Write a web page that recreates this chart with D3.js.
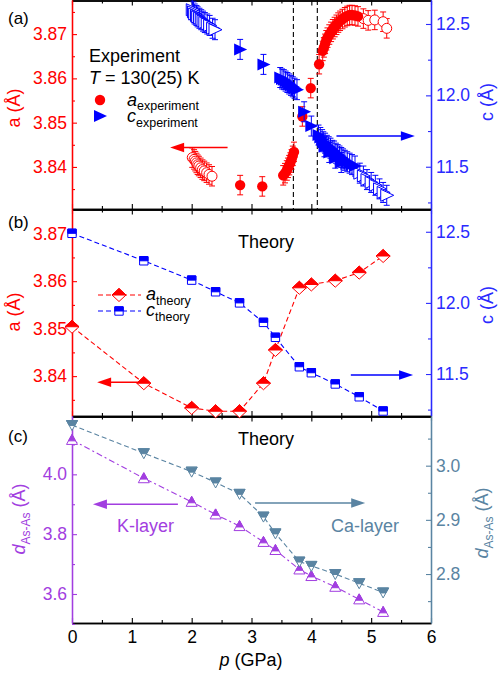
<!DOCTYPE html>
<html lang="en">
<head>
<meta charset="UTF-8">
<title>Lattice parameters under pressure</title>
<script src="https://cdnjs.cloudflare.com/ajax/libs/d3/7.8.5/d3.min.js"></script>
<style>
    body { margin: 0; background: #fff; }
    text { font-family: "Liberation Sans", Arial, sans-serif; }
</style>
</head>
<body>
<script>
    // ---------- data ----------
    var pTicks = [0, 1, 2, 3, 4, 5, 6];
    var transitions = [3.7, 4.1];   // dashed lines in (a)

    // (a) experiment, [p (GPa), value]
    var aExpOpenLow = [[2.01,3.8421],[2.04,3.8417],[2.06,3.8413],[2.08,3.8409],[2.10,3.8405],[2.12,3.8402],
        [2.15,3.8398],[2.18,3.8394],[2.21,3.8391],[2.25,3.8387],[2.29,3.8383],[2.34,3.8379]];
    var aExpFilled = [[2.81,3.8359],[3.18,3.8356],
        [3.53,3.8381],[3.56,3.8386],[3.59,3.8392],[3.61,3.8398],[3.63,3.8404],[3.65,3.8410],[3.67,3.8417],[3.69,3.8425],[3.71,3.8434],
        [3.85,3.8514],[3.99,3.8578],[4.13,3.8632],
        [4.19,3.8662],[4.21,3.8670],[4.23,3.8678],[4.25,3.8686],[4.27,3.8692],[4.30,3.8699],[4.33,3.8705],[4.36,3.8711],
        [4.39,3.8716],[4.42,3.8721],[4.45,3.8726],[4.48,3.8730],[4.52,3.8734],[4.56,3.8738],[4.60,3.8741],[4.64,3.8743],
        [4.68,3.8743],[4.73,3.8742],[4.78,3.8740]];
    var aExpOpenHigh = [[4.87,3.8735],[4.95,3.8731],[5.06,3.8732],[5.20,3.8728],[5.26,3.8713]];

    var cExpOpenLow = [[2.01,12.60],[2.03,12.585],[2.05,12.57],[2.08,12.56],[2.10,12.55],[2.13,12.54],[2.16,12.53],
        [2.19,12.52],[2.22,12.51],[2.26,12.50],[2.30,12.49],[2.35,12.47],[2.39,12.46]];
    var cExpFilled = [[2.81,12.322],[3.20,12.217],
        [3.48,12.125],[3.51,12.115],[3.54,12.11],[3.57,12.10],[3.60,12.09],[3.63,12.08],[3.66,12.07],[3.69,12.06],[3.72,12.05],[3.76,12.04],
        [3.88,11.885],[4.00,11.785],
        [4.12,11.722],[4.15,11.705],[4.18,11.69],[4.20,11.675],[4.23,11.665],[4.26,11.65],[4.29,11.64],[4.32,11.63],
        [4.35,11.615],[4.38,11.61],[4.41,11.595],[4.44,11.585],[4.47,11.575],[4.50,11.565],[4.53,11.555],[4.56,11.545],
        [4.60,11.535],[4.64,11.525],[4.68,11.515],[4.73,11.505],
        [4.22,11.64],[4.30,11.60],[4.40,11.56],[4.50,11.53]];
    var cExpOpenHigh = [[4.81,11.455],[4.87,11.435],[4.93,11.41],[5.00,11.39],[5.07,11.37],[5.14,11.345],[5.20,11.32],[5.26,11.30]];

    var aErr = 0.0022;
    var cErr = 0.07;

    // (b), (c) theory
    var pTheory  = [0, 1.2, 2.0, 2.4, 2.8, 3.2, 3.4, 3.8, 4.0, 4.4, 4.8, 5.2];
    var aTheory  = [3.8504, 3.8385, 3.8333, 3.8326, 3.8326, 3.8385, 3.8455, 3.8586, 3.8593, 3.8601, 3.8618, 3.8653];
    var cTheory  = [12.489, 12.296, 12.16, 12.078, 12.0, 11.863, 11.758, 11.551, 11.509, 11.43, 11.34, 11.24];
    var dKlayer  = [4.115, 3.987, 3.908, 3.866, 3.827, 3.774, 3.747, 3.682, 3.660, 3.624, 3.582, 3.540];
    var dCalayer = [3.075, 3.023, 2.989, 2.969, 2.948, 2.906, 2.875, 2.823, 2.815, 2.800, 2.783, 2.766];

    var aTicks = [3.84, 3.85, 3.86, 3.87];
    var cTicks = [11.5, 12.0, 12.5];
    var dKTicks = [3.6, 3.8, 4.0];
    var dCaTicks = [2.8, 2.9, 3.0];

    // ---------- setup ----------
    var w = 503, h = 675;
    var red = "#ff0000", blue = "#0000ff", blueAxis = "#2a2aff";
    var purple = "#a23ee0", slate = "#5a84a2";

    var svg = d3.select("body").append("svg")
        .attr("width", w).attr("height", h)
        .style("background", "#fff");

    var xScale = d3.scaleLinear().domain([0, 6]).range([72, 431]);

    var yA  = d3.scaleLinear().domain([3.8305, 3.8777]).range([209, 0]);
    var yC  = d3.scaleLinear().domain([11.204, 12.668]).range([209, 0]);
    var yA2 = d3.scaleLinear().domain([3.8316, 3.8752]).range([416, 209]);
    var yC2 = d3.scaleLinear().domain([11.205, 12.66]).range([416, 209]);
    var yK  = d3.scaleLinear().domain([3.503, 4.195]).range([623, 416]);
    var yCa = d3.scaleLinear().domain([2.7096, 3.0917]).range([623, 416]);

    var panels = [
        {top: 0, bottom: 209, left: yA, right: yC, lt: aTicks, rt: cTicks, lminor: [3.835, 3.845, 3.855, 3.865, 3.875], rminor: [11.25, 11.75, 12.25],
         lfmt: d3.format(".2f"), rfmt: d3.format(".1f"), lc: red, rc: blueAxis},
        {top: 209, bottom: 416, left: yA2, right: yC2, lt: aTicks, rt: cTicks, lminor: [3.835, 3.845, 3.855, 3.865], rminor: [11.25, 11.75, 12.25],
         lfmt: d3.format(".2f"), rfmt: d3.format(".1f"), lc: red, rc: blueAxis},
        {top: 416, bottom: 623, left: yK, right: yCa, lt: dKTicks, rt: dCaTicks, lminor: [3.5, 3.7, 3.9, 4.1], rminor: [2.75, 2.85, 2.95, 3.05],
         lfmt: d3.format(".1f"), rfmt: d3.format(".1f"), lc: purple, rc: slate}
    ];
    var pMinor = [0.5, 1.5, 2.5, 3.5, 4.5, 5.5];

    function styleAxis(g, color, size) {
        g.select(".domain").attr("stroke", color).attr("stroke-width", 1.3);
        g.selectAll(".tick line").attr("stroke", color).attr("stroke-width", 1.1);
        g.selectAll(".tick text").attr("fill", color)
            .style("font-size", size + "px")
            .style("font-family", "'Liberation Sans', Arial, sans-serif");
    }

    // ---------- axes ----------
    panels.forEach(function(pn, i) {
        // x top / bottom
        svg.append("g").attr("transform", "translate(0," + pn.bottom + ")")
            .call(d3.axisBottom(xScale).tickValues(pTicks).tickSize(-5).tickSizeOuter(0).tickPadding(8)
                .tickFormat(i == 2 ? d3.format("d") : ""))
            .call(styleAxis, "#000", 17.5);
        svg.append("g").attr("transform", "translate(0," + pn.bottom + ")")
            .call(d3.axisBottom(xScale).tickValues(pMinor).tickSize(-3).tickSizeOuter(0).tickFormat(""))
            .call(styleAxis, "#000", 17.5);
        svg.append("g").attr("transform", "translate(0," + (pn.top + 0.5) + ")")
            .call(d3.axisTop(xScale).tickValues(pTicks).tickSize(-5).tickSizeOuter(0).tickFormat(""))
            .call(styleAxis, "#000", 17.5);
        svg.append("g").attr("transform", "translate(0," + (pn.top + 0.5) + ")")
            .call(d3.axisTop(xScale).tickValues(pMinor).tickSize(-3).tickSizeOuter(0).tickFormat(""))
            .call(styleAxis, "#000", 17.5);

        // left
        svg.append("g").attr("transform", "translate(72,0)")
            .call(d3.axisLeft(pn.left).tickValues(pn.lt).tickSize(-5).tickSizeOuter(0).tickPadding(5).tickFormat(pn.lfmt))
            .call(styleAxis, pn.lc, 17.5);
        svg.append("g").attr("transform", "translate(72,0)")
            .call(d3.axisLeft(pn.left).tickValues(pn.lminor).tickSize(-3).tickSizeOuter(0).tickFormat(""))
            .call(styleAxis, pn.lc, 17.5);
        // right
        svg.append("g").attr("transform", "translate(431,0)")
            .call(d3.axisRight(pn.right).tickValues(pn.rt).tickSize(-5).tickSizeOuter(0).tickPadding(5).tickFormat(pn.rfmt))
            .call(styleAxis, pn.rc, 17.5);
        svg.append("g").attr("transform", "translate(431,0)")
            .call(d3.axisRight(pn.right).tickValues(pn.rminor).tickSize(-3).tickSizeOuter(0).tickFormat(""))
            .call(styleAxis, pn.rc, 17.5);
    });

    // ---------- helpers ----------
    function arrow(x1, x2, y, color) {
        var dir = x2 > x1 ? 1 : -1;
        var len = 14, hw = 4.8;
        svg.append("line")
            .attr("x1", x1).attr("x2", x2 - dir * len + dir * 2)
            .attr("y1", y).attr("y2", y)
            .attr("stroke", color).attr("stroke-width", 1.6);
        svg.append("path")
            .attr("d", "M" + x2 + "," + y + "L" + (x2 - dir * len) + "," + (y - hw) + "L" + (x2 - dir * len) + "," + (y + hw) + "Z")
            .attr("fill", color);
    }

    function errorBars(data, ys, err, color) {
        var g = svg.append("g").attr("stroke", color).attr("stroke-width", 1);
        data.forEach(function(d) {
            var x = xScale(d[0]), y0 = ys(d[1] - err), y1 = ys(d[1] + err);
            g.append("line").attr("x1", x).attr("x2", x).attr("y1", y0).attr("y2", y1);
            g.append("line").attr("x1", x - 3).attr("x2", x + 3).attr("y1", y0).attr("y2", y0);
            g.append("line").attr("x1", x - 3).attr("x2", x + 3).attr("y1", y1).attr("y2", y1);
        });
    }

    var triRight = "M-6,-6L7,0L-6,6Z";

    // half filled symbols: outline + filled upper part
    var diamond = {full: "M0,-6.5L7,0L0,6.5L-7,0Z", top: "M0,-6.5L7,0L-7,0Z"};
    var square  = {full: "M-4.2,-4.2L4.2,-4.2L4.2,4.2L-4.2,4.2Z", top: "M-4.2,-4.2L4.2,-4.2L4.2,0L-4.2,0Z"};
    var triUp   = {full: "M0,-5.5L5.5,4.5L-5.5,4.5Z", top: "M0,-5.5L3.5,0.9L-3.5,0.9Z"};
    var triDown = {full: "M-5.5,-4.5L5.5,-4.5L0,5.5Z", top: "M-5.5,-4.5L5.5,-4.5L2.75,0.5L-2.75,0.5Z"};

    function halfMarker(g, shape, t, color) {
        g.append("path").attr("d", shape.full).attr("transform", t)
            .attr("fill", "#fff").attr("stroke", color).attr("stroke-width", 1);
        g.append("path").attr("d", shape.top).attr("transform", t)
            .attr("fill", color).attr("stroke", color).attr("stroke-width", 1);
    }

    function halfMarkers(ys, vals, shape, color) {
        var g = svg.append("g");
        pTheory.forEach(function(p, i) {
            halfMarker(g, shape, "translate(" + xScale(p) + "," + ys(vals[i]) + ")", color);
        });
    }

    function theoryLine(ys, vals, color, dash) {
        var line = d3.line()
            .x(function(d, i) { return xScale(pTheory[i]); })
            .y(function(d) { return ys(d); });
        svg.append("path").datum(vals)
            .attr("d", line)
            .attr("fill", "none")
            .attr("stroke", color).attr("stroke-width", 1.1)
            .attr("stroke-dasharray", dash);
    }

    // ---------- panel (a) ----------
    transitions.forEach(function(p) {
        svg.append("line")
            .attr("x1", xScale(p)).attr("x2", xScale(p))
            .attr("y1", 0).attr("y2", 209)
            .attr("stroke", "#000").attr("stroke-width", 1.1)
            .attr("stroke-dasharray", "5,3");
    });

    errorBars(aExpOpenLow, yA, aErr, red);
    errorBars(aExpFilled, yA, aErr, red);
    errorBars(aExpOpenHigh, yA, aErr, red);

    svg.append("g").selectAll("circle").data(aExpOpenLow.concat(aExpOpenHigh)).enter()
        .append("circle")
        .attr("cx", function(d) { return xScale(d[0]); })
        .attr("cy", function(d) { return yA(d[1]); })
        .attr("r", 5).attr("fill", "#fff").attr("stroke", red).attr("stroke-width", 1);
    svg.append("g").selectAll("circle").data(aExpFilled).enter()
        .append("circle")
        .attr("cx", function(d) { return xScale(d[0]); })
        .attr("cy", function(d) { return yA(d[1]); })
        .attr("r", 5.2).attr("fill", red);

    errorBars(cExpOpenLow, yC, cErr, blue);
    errorBars(cExpFilled, yC, cErr, blue);
    errorBars(cExpOpenHigh, yC, cErr, blue);

    svg.append("g").selectAll("path").data(cExpOpenLow.concat(cExpOpenHigh)).enter()
        .append("path")
        .attr("d", triRight)
        .attr("transform", function(d) { return "translate(" + xScale(d[0]) + "," + yC(d[1]) + ")"; })
        .attr("fill", "#fff").attr("stroke", blue).attr("stroke-width", 1);
    svg.append("g").selectAll("path").data(cExpFilled).enter()
        .append("path")
        .attr("d", triRight)
        .attr("transform", function(d) { return "translate(" + xScale(d[0]) + "," + yC(d[1]) + ")"; })
        .attr("fill", blue);

    arrow(xScale(2.6), xScale(1.64), yA(3.8444), red);
    arrow(xScale(4.42), xScale(5.73), yC(11.715), blue);

    // legend (a)
    svg.append("text").attr("x", 89).attr("y", 62).style("font-size", "18px").text("Experiment");
    var tt = svg.append("text").attr("x", 89).attr("y", 84).style("font-size", "18px");
    tt.append("tspan").style("font-style", "italic").text("T");
    tt.append("tspan").text(" = 130(25) K");
    svg.append("circle").attr("cx", 100).attr("cy", 100).attr("r", 5.2).attr("fill", red);
    svg.append("path").attr("d", triRight).attr("transform", "translate(100,116)").attr("fill", blue);
    var la = svg.append("text").attr("x", 127).attr("y", 106).style("font-size", "18px");
    la.append("tspan").style("font-style", "italic").text("a");
    la.append("tspan").attr("dy", 4).style("font-size", "12.5px").text("experiment");
    var lc = svg.append("text").attr("x", 127).attr("y", 122).style("font-size", "18px");
    lc.append("tspan").style("font-style", "italic").text("c");
    lc.append("tspan").attr("dy", 5).style("font-size", "12.5px").text("experiment");

    // ---------- panel (b) ----------
    theoryLine(yA2, aTheory, red, "5,3");
    theoryLine(yC2, cTheory, blue, "5,3");
    halfMarkers(yA2, aTheory, diamond, red);
    halfMarkers(yC2, cTheory, square, blue);

    arrow(xScale(1.19), xScale(0.42), yA2(3.8387), red);
    arrow(xScale(4.66), xScale(5.70), yC2(11.493), blue);

    svg.append("text").attr("x", 238).attr("y", 248).style("font-size", "18px").text("Theory");

    // legend (b)
    [[295, red, diamond, "a"], [311, blue, square, "c"]].forEach(function(r) {
        svg.append("line").attr("x1", 98).attr("x2", 141).attr("y1", r[0]).attr("y2", r[0])
            .attr("stroke", r[1]).attr("stroke-width", 1.1).attr("stroke-dasharray", "5,3");
        halfMarker(svg, r[2], "translate(119," + r[0] + ")", r[1]);
        var t = svg.append("text").attr("x", 146).attr("y", r[0] + 5).style("font-size", "18px");
        t.append("tspan").style("font-style", "italic").text(r[3]);
        t.append("tspan").attr("dy", 5).style("font-size", "12.5px").text("theory");
    });

    // ---------- panel (c) ----------
    theoryLine(yK, dKlayer, purple, "6,3,2,3");
    theoryLine(yCa, dCalayer, slate, "5,3");
    halfMarkers(yK, dKlayer, triUp, purple);
    halfMarkers(yCa, dCalayer, triDown, slate);

    arrow(xScale(1.77), xScale(0.35), yK(3.90), purple);
    arrow(xScale(3.06), xScale(4.90), yCa(2.931), slate);

    svg.append("text").attr("x", 238).attr("y", 445).style("font-size", "18px").text("Theory");
    svg.append("text").attr("x", 117).attr("y", 532).style("font-size", "18px").attr("fill", purple).text("K-layer");
    svg.append("text").attr("x", 331).attr("y", 532).style("font-size", "18px").attr("fill", slate).text("Ca-layer");

    // ---------- labels ----------
    [["(a)", 18], ["(b)", 222], ["(c)", 436]].forEach(function(l) {
        svg.append("text").attr("x", 8).attr("y", l[1] + 6).style("font-size", "17px").text(l[0]);
    });

    function yTitle(x, y, color, main, sub) {
        var t = svg.append("text")
            .attr("transform", "translate(" + x + "," + y + ") rotate(-90)")
            .attr("text-anchor", "middle")
            .attr("fill", color)
            .style("font-size", "18px");
        if (sub) {
            t.append("tspan").style("font-style", "italic").text(main);
            t.append("tspan").attr("dy", 5).style("font-size", "12px").text(sub);
            t.append("tspan").attr("dy", -5).text(" (Å)");
        } else {
            t.text(main + " (Å)");
        }
    }
    yTitle(20, 108, red, "a");
    yTitle(493, 102, blueAxis, "c");
    yTitle(20, 312, red, "a");
    yTitle(493, 305, blueAxis, "c");
    yTitle(25, 519, purple, "d", "As-As");
    yTitle(488, 523, slate, "d", "As-As");

    var xt = svg.append("text").attr("x", 251).attr("y", 666).attr("text-anchor", "middle").style("font-size", "18px");
    xt.append("tspan").style("font-style", "italic").text("p");
    xt.append("tspan").text(" (GPa)");
</script>
</body>
</html>
